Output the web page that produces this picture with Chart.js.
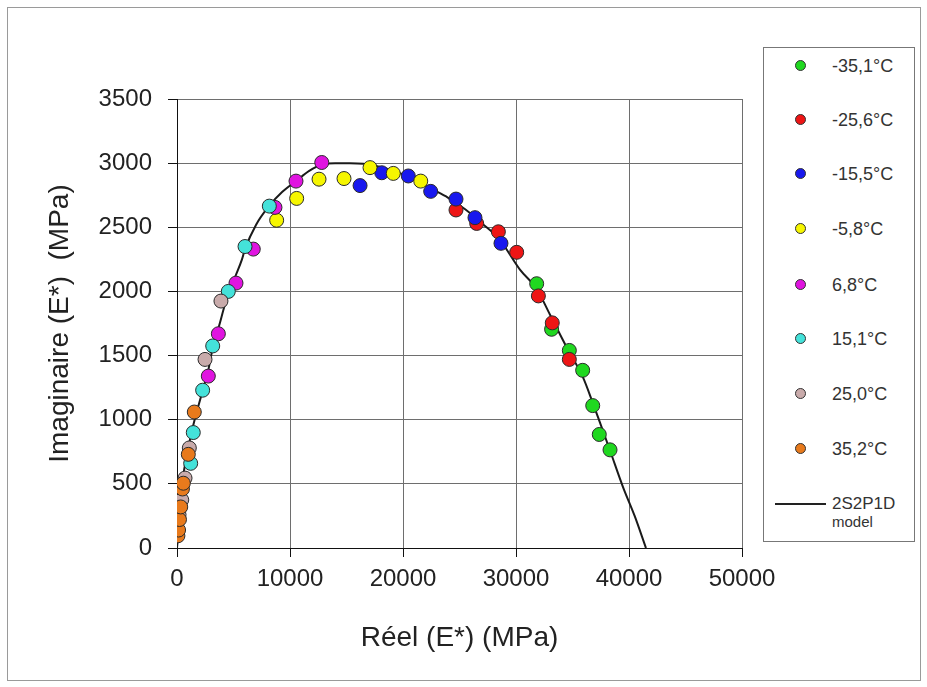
<!DOCTYPE html>
<html>
<head>
<meta charset="utf-8">
<script src="https://cdn.jsdelivr.net/npm/chart.js@4"></script>
<style>
  html, body { margin:0; padding:0; background:#fff; }
  #wrap { position:relative; width:927px; height:687px; overflow:hidden; background:#fff; }
  #frame { position:absolute; left:7px; top:7px; width:914px; height:674px; border:1px solid #9a9a9a; box-sizing:border-box; pointer-events:none; }
  #c { position:absolute; left:0; top:0; }
  #legend { position:absolute; left:763px; top:47px; width:152px; height:495px; border:1px solid #777; box-sizing:border-box; background:#fff;
            font-family:"Liberation Sans", Arial, sans-serif; color:#333; }
  .item { position:absolute; left:0; width:100%; height:20px; }
  .mk { position:absolute; left:31px; top:4px; width:11px; height:11px; border-radius:50%; border:1px solid #333; box-sizing:border-box; }
  .lb { position:absolute; left:68px; top:0; font-size:18px; line-height:20px; white-space:nowrap; }
  .ln { position:absolute; left:11px; top:9px; width:51px; height:2px; background:#222; }
</style>
</head>
<body>
<div id="wrap">
  <canvas id="c" width="927" height="687"></canvas>
  <div id="frame"></div>
  <div id="legend"></div>
</div>
<script>
// ---- data ----
const seriesLabels = ['-35,1°C', '-25,6°C', '-15,5°C', '-5,8°C', '6,8°C', '15,1°C', '25,0°C', '35,2°C'];
const modelLabel = ['2S2P1D', 'model'];

const reel_m35_1 = [31830, 33150, 34720, 35900, 36790, 37370, 38320];
const imag_m35_1 = [2060, 1705, 1540, 1385, 1110, 885, 765];

const reel_m25_6 = [24690, 26520, 28440, 30060, 31980, 33210, 34720];
const imag_m25_6 = [2635, 2530, 2465, 2305, 1965, 1755, 1470];

const reel_m15_5 = [16200, 18120, 20470, 22450, 24690, 26370, 28670];
const imag_m15_5 = [2825, 2925, 2900, 2780, 2720, 2575, 2375];

const reel_m5_8 = [8820, 10590, 12570, 14780, 17080, 19140, 21570];
const imag_m5_8 = [2555, 2725, 2875, 2880, 2965, 2920, 2860];

const reel_6_8 = [2770, 3660, 5220, 6750, 8670, 10530, 12810];
const imag_6_8 = [1340, 1670, 2065, 2330, 2655, 2860, 3005];

const reel_15_1 = [1210, 1440, 2270, 3160, 4540, 6020, 8170];
const imag_15_1 = [660, 900, 1230, 1575, 2000, 2350, 2665];

const reel_25_0 = [180, 420, 710, 1090, 2480, 3890];
const imag_25_0 = [260, 375, 545, 780, 1470, 1925];

const reel_35_2 = [80, 140, 220, 330, 480, 560, 1000, 1530];
const imag_35_2 = [95, 140, 222, 320, 460, 505, 730, 1060];

const model_reel = [0, 130, 270, 440, 710, 970, 1450, 2300, 2740, 3190, 3720, 4250, 4690, 5220, 5750, 6020, 7000, 8140, 9300, 10530, 11700, 12830, 14000, 15300, 16500, 18000, 19500, 21000, 22500, 24000, 25500, 27000, 28500, 30350, 31860, 33000, 34600, 35930, 36800, 37440, 38320, 39470, 40500, 41500];
const model_imag = [0, 140, 300, 490, 650, 770, 960, 1235, 1375, 1570, 1730, 1900, 2015, 2130, 2250, 2330, 2520, 2665, 2775, 2860, 2940, 2990, 3000, 3000, 2995, 2970, 2930, 2870, 2800, 2730, 2640, 2530, 2410, 2170, 2015, 1820, 1545, 1330, 1130, 975, 760, 475, 250, 0];

const xTicks = [0, 10000, 20000, 30000, 40000, 50000];
const yTicks = [0, 500, 1000, 1500, 2000, 2500, 3000, 3500];

// ---- styles ----
const seriesColors = ['#20d820', '#ee1515', '#1818ee', '#f6f600', '#e014e0', '#44e2da', '#c9abab', '#e87a1c'];

const seriesX = [reel_m35_1, reel_m25_6, reel_m15_5, reel_m5_8, reel_6_8, reel_15_1, reel_25_0, reel_35_2];
const seriesY = [imag_m35_1, imag_m25_6, imag_m15_5, imag_m5_8, imag_6_8, imag_15_1, imag_25_0, imag_35_2];

const pairs = (xs, ys) => xs.map((x, i) => ({ x: x, y: ys[i] }));

const datasets = seriesLabels.map((lab, i) => ({
  type: 'scatter',
  label: lab,
  data: pairs(seriesX[i], seriesY[i]),
  backgroundColor: seriesColors[i],
  borderColor: '#2a2a2a',
  borderWidth: 1,
  pointRadius: 7,
  pointHoverRadius: 7,
  order: seriesLabels.length - i
}));
datasets.push({
  type: 'line',
  label: modelLabel.join(' '),
  data: pairs(model_reel, model_imag),
  borderColor: '#1a1a1a',
  borderWidth: 2,
  pointRadius: 0,
  fill: false,
  showLine: true,
  cubicInterpolationMode: 'monotone',
  order: seriesLabels.length + 1
});

const FONT = '"Liberation Sans", Arial, sans-serif';

new Chart(document.getElementById('c'), {
  type: 'scatter',
  data: { datasets: datasets },
  options: {
    responsive: false,
    animation: false,
    events: [],
    layout: { padding: { left: 0, top: 99, right: 185, bottom: 0 } },
    plugins: { legend: { display: false }, tooltip: { enabled: false } },
    scales: {
      x: {
        type: 'linear', min: 0, max: 50000,
        afterFit: s => { s.height = 139; },
        afterBuildTicks: s => { s.ticks = xTicks.map(v => ({ value: v })); },
        ticks: { font: { family: FONT, size: 24 }, color: '#222', padding: 8, maxRotation: 0, autoSkip: false, callback: v => String(v) },
        grid: { color: '#6e6e6e', lineWidth: 1, tickLength: 9, tickColor: '#111', drawTicks: true },
        border: { color: '#111', width: 1 },
        title: { display: true, text: 'Réel (E*) (MPa)', font: { family: FONT, size: 28 }, color: '#222', padding: { top: 0, bottom: 32 } }
      },
      y: {
        type: 'linear', min: 0, max: 3500,
        afterFit: s => { s.width = 177; },
        afterBuildTicks: s => { s.ticks = yTicks.map(v => ({ value: v })); },
        ticks: { font: { family: FONT, size: 24 }, color: '#222', padding: 16, autoSkip: false, callback: v => String(v) },
        grid: { color: '#6e6e6e', lineWidth: 1, tickLength: 9, tickColor: '#111', drawTicks: true },
        border: { color: '#111', width: 1 },
        title: { display: true, text: 'Imaginaire (E*)  (MPa)', font: { family: FONT, size: 28 }, color: '#222', padding: { top: 43, bottom: 0 } }
      }
    }
  }
});

// ---- legend built from the same series ----
const legend = document.getElementById('legend');
const rowTops = [8, 62, 116, 171, 227, 281, 336, 391];
seriesLabels.forEach((lab, i) => {
  const it = document.createElement('div');
  it.className = 'item';
  it.style.top = rowTops[i] + 'px';
  const mk = document.createElement('div');
  mk.className = 'mk';
  mk.style.background = seriesColors[i];
  const lb = document.createElement('div');
  lb.className = 'lb';
  lb.textContent = lab;
  it.appendChild(mk); it.appendChild(lb);
  legend.appendChild(it);
});
const mi = document.createElement('div');
mi.className = 'item';
mi.style.top = '446px';
const ln = document.createElement('div'); ln.className = 'ln';
const l1 = document.createElement('div'); l1.className = 'lb'; l1.style.fontSize = '17px'; l1.textContent = modelLabel[0];
const l2 = document.createElement('div'); l2.className = 'lb'; l2.style.top = '18px'; l2.style.fontSize = '15px'; l2.textContent = modelLabel[1];
mi.appendChild(ln); mi.appendChild(l1); mi.appendChild(l2);
legend.appendChild(mi);
</script>
</body>
</html>
